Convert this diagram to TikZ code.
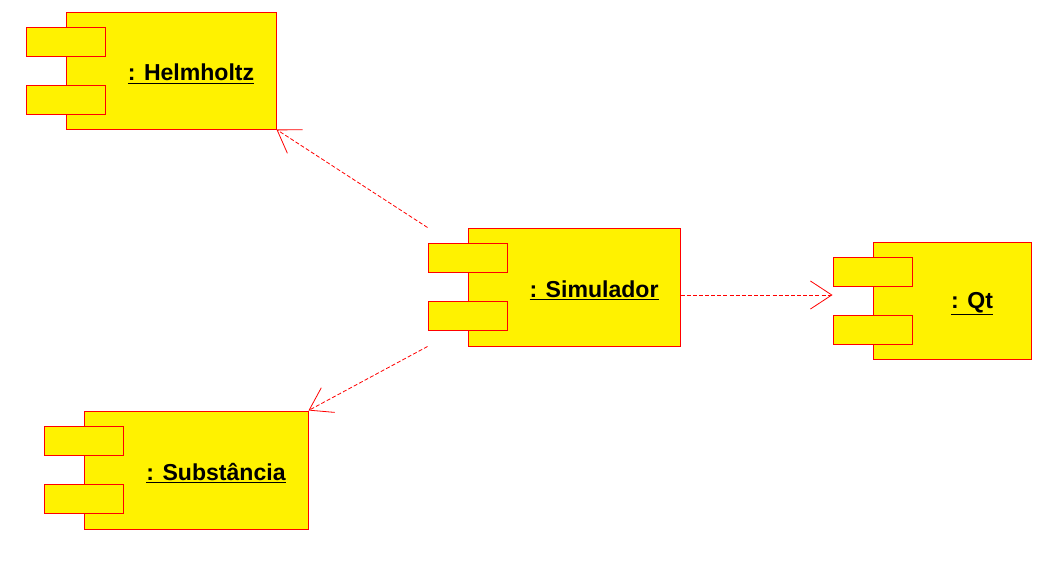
\documentclass[tikz,border=0pt]{standalone}
\usepackage{fontspec}
\setmainfont{Liberation Sans}
\usetikzlibrary{arrows.meta,positioning,calc}

\begin{document}
\begin{tikzpicture}[
    x=0.75pt, y=-0.75pt,    % one unit is one pixel
    >={Straight Barb[length=16pt,width=21pt]},
    comp/.style={rectangle, draw=red, fill=yellow, line width=0.75pt, inner sep=0pt},
    tab/.style={rectangle, draw=red, fill=yellow, line width=0.75pt, inner sep=0pt,
                minimum width=59.25pt, minimum height=21.75pt},
    lbl/.style={font=\fontsize{17.3}{20}\selectfont\bfseries, yshift=-2.5pt},
    dep/.style={->, red, line width=0.6pt, dash pattern=on 3pt off 1.6pt}]
    \useasboundingbox (0,0) rectangle (1041,561);

    % Components
    \node[comp, minimum width=157.5pt, minimum height=87.75pt] (helm) at (171,70.5) {};
    \node[tab] (helmTabA) at ([yshift=21.75pt]helm.west) {};
    \node[tab] (helmTabB) at ([yshift=-21.75pt]helm.west) {};
    \node[lbl] (helmLbl) at ($(helmTabA.east |- helm.center)!0.5!(helm.east)$) {\underline{: Helmholtz}};

    \node[comp, minimum width=159pt, minimum height=88.5pt] (sim) at (574,287) {};
    \node[tab] (simTabA) at ([yshift=21.75pt]sim.west) {};
    \node[tab] (simTabB) at ([yshift=-21.75pt]sim.west) {};
    \node[lbl] (simLbl) at ($(simTabA.east |- sim.center)!0.5!(sim.east)$) {\underline{: Simulador}};

    \node[comp, minimum width=118.5pt, minimum height=87.75pt] (qt) at (952,300.5) {};
    \node[tab] (qtTabA) at ([yshift=21.75pt]qt.west) {};
    \node[tab] (qtTabB) at ([yshift=-21.75pt]qt.west) {};
    \node[lbl] (qtLbl) at ($(qtTabA.east |- qt.center)!0.5!(qt.east)$) {\underline{: Qt}};

    \node[comp, minimum width=168pt, minimum height=88.5pt] (subst) at (196,470) {};
    \node[tab] (substTabA) at ([yshift=21.75pt]subst.west) {};
    \node[tab] (substTabB) at ([yshift=-21.75pt]subst.west) {};
    \node[lbl] (substLbl) at ($(substTabA.east |- subst.center)!0.5!(subst.east)$) {\underline{: Substância}};

    % Dependencies
    \draw[dep] (simTabA.west |- sim.north) -- (helm.south east);
    \draw[dep] (simTabB.west |- sim.south) -- (subst.north east);
    \draw[dep] ([yshift=-6pt]sim.east) -- ([yshift=-6pt]sim.east -| qtTabA.west);
\end{tikzpicture}
\end{document}
